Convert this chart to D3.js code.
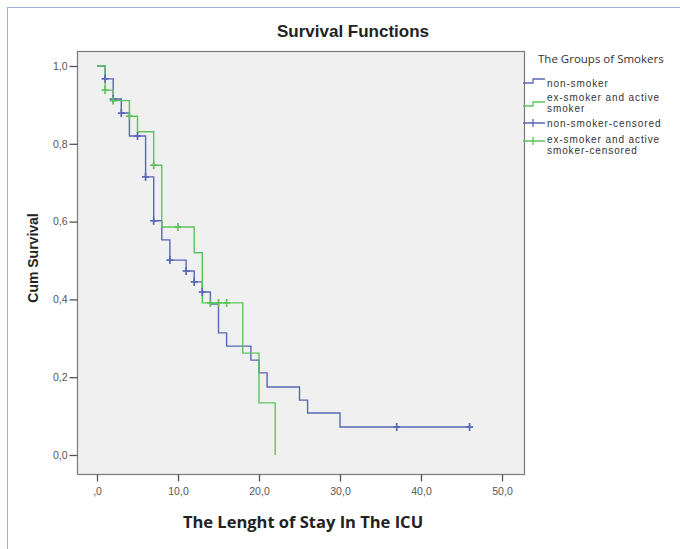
<!DOCTYPE html>
<html>
<head>
<meta charset="utf-8">
<script src="https://cdn.jsdelivr.net/npm/d3@7"></script>
<style>
  body { margin: 0; background: #fff; }
  svg { display: block; }
</style>
</head>
<body>
<div id="chart"></div>
<script>
// non-smoker curve (time, cum survival)
var blueTimes = [0, 1, 2, 3, 4, 6, 7, 8, 9, 11, 12, 13, 14, 15, 16, 19, 20, 21, 25, 26, 30, 46];
var blueSurv = [1.0, 0.967, 0.915, 0.879, 0.820, 0.715, 0.602, 0.553, 0.501, 0.473, 0.445, 0.419, 0.388, 0.314, 0.280, 0.244, 0.211, 0.175, 0.141, 0.108, 0.072, 0.072];
var blueCensT = [1, 2, 3, 5, 6, 7, 9, 11, 12, 13, 37, 46];
var blueCensS = [0.967, 0.915, 0.879, 0.820, 0.715, 0.602, 0.501, 0.473, 0.445, 0.419, 0.072, 0.072];

// ex-smoker and active smoker curve
var greenTimes = [0, 1, 2, 4, 5, 7, 8, 12, 13, 18, 20, 22];
var greenSurv = [1.0, 0.938, 0.911, 0.871, 0.831, 0.745, 0.586, 0.520, 0.391, 0.262, 0.134, 0.0];
var greenCensT = [1, 2, 4, 7, 10, 14, 15, 16];
var greenCensS = [0.938, 0.911, 0.871, 0.745, 0.586, 0.391, 0.391, 0.391];

var xTicks = [0, 10, 20, 30, 40, 50];
var yTicks = [0, 0.2, 0.4, 0.6, 0.8, 1.0];

var blue = '#5767b9';
var green = '#5cc35c';

var legendItems = [
  { lines: ['non-smoker'], color: blue, kind: 'step' },
  { lines: ['ex-smoker and active', 'smoker'], color: green, kind: 'step' },
  { lines: ['non-smoker-censored'], color: blue, kind: 'cross' },
  { lines: ['ex-smoker and active', 'smoker-censored'], color: green, kind: 'cross' }
];

var w = 680;
var h = 549;
var svg = d3.select('#chart').append('svg')
  .attr('width', w)
  .attr('height', h);

// outer frame
svg.append('rect')
  .attr('x', 7.5).attr('y', 7.5)
  .attr('width', 690).attr('height', 570)
  .attr('fill', 'none')
  .attr('stroke', '#9db0da')
  .attr('stroke-width', 1);

var plotL = 77, plotT = 51, plotR = 524, plotB = 474;

var x = d3.scaleLinear().domain([0, 50]).range([97, 502]);
var y = d3.scaleLinear().domain([0, 1]).range([455, 66]);

svg.append('rect')
  .attr('x', plotL + 0.5).attr('y', plotT + 0.5)
  .attr('width', plotR - plotL).attr('height', plotB - plotT)
  .attr('fill', '#f0f0f0')
  .attr('stroke', '#7a7a7a')
  .attr('stroke-width', 1.2);

function fmt(d) {
  return d3.format('.1f')(d).replace('.', ',');
}

// y axis
var yAxis = svg.append('g')
  .attr('transform', 'translate(' + (plotL + 0.5) + ',0)')
  .call(d3.axisLeft(y).tickValues(yTicks).tickSize(8).tickPadding(2)
    .tickFormat(fmt));
yAxis.select('.domain').remove();

// x axis
var xAxis = svg.append('g')
  .attr('transform', 'translate(0,' + (plotB + 0.5) + ')')
  .call(d3.axisBottom(x).tickValues(xTicks).tickSize(7).tickPadding(6)
    .tickFormat(function (d) {
      return d === 0 ? ',0' : fmt(d);
    }));
xAxis.select('.domain').remove();

svg.selectAll('.tick line').attr('stroke', '#555').attr('stroke-width', 1.3);
svg.selectAll('.tick text')
  .attr('fill', '#555')
  .attr('font-family', 'Liberation Sans, Arial, sans-serif')
  .attr('font-size', '10.5px');

// curves
var line = d3.line()
  .x(function (d) { return x(d[0]); })
  .y(function (d) { return y(d[1]); })
  .curve(d3.curveStepAfter);

function drawCurve(times, surv, color) {
  svg.append('path')
    .datum(d3.zip(times, surv))
    .attr('d', line)
    .attr('fill', 'none')
    .attr('stroke', color)
    .attr('stroke-width', 1.4);
}

function drawCens(times, surv, color) {
  var g = svg.append('g');
  var pts = d3.zip(times, surv);
  g.selectAll('line.v').data(pts).enter().append('line')
    .attr('x1', function (d) { return x(d[0]); })
    .attr('x2', function (d) { return x(d[0]); })
    .attr('y1', function (d) { return y(d[1]) - 4; })
    .attr('y2', function (d) { return y(d[1]) + 4; })
    .attr('stroke', color).attr('stroke-width', 1.7);
  g.selectAll('line.h').data(pts).enter().append('line')
    .attr('x1', function (d) { return x(d[0]) - 3.5; })
    .attr('x2', function (d) { return x(d[0]) + 3.5; })
    .attr('y1', function (d) { return y(d[1]); })
    .attr('y2', function (d) { return y(d[1]); })
    .attr('stroke', color).attr('stroke-width', 1.7);
}

drawCurve(blueTimes, blueSurv, blue);
drawCurve(greenTimes, greenSurv, green);
drawCens(blueCensT, blueCensS, blue);
drawCens(greenCensT, greenCensS, green);

// titles
svg.append('text')
  .text('Survival Functions')
  .attr('x', 353).attr('y', 37)
  .attr('text-anchor', 'middle')
  .attr('font-family', 'Liberation Sans, Arial, sans-serif')
  .attr('font-weight', 'bold')
  .attr('font-size', '17px')
  .attr('fill', '#222');

svg.append('text')
  .text('Cum Survival')
  .attr('transform', 'translate(38,258) rotate(-90)')
  .attr('text-anchor', 'middle')
  .attr('font-family', 'Liberation Sans, Arial, sans-serif')
  .attr('font-weight', 'bold')
  .attr('font-size', '14px')
  .attr('fill', '#222');

svg.append('text')
  .text('The Lenght of Stay In The ICU')
  .attr('x', 303).attr('y', 528)
  .attr('text-anchor', 'middle')
  .attr('font-family', 'Open Sans, sans-serif')
  .attr('font-weight', 'bold')
  .attr('font-size', '16.5px')
  .attr('fill', '#222');

// legend
var lg = svg.append('g');
lg.append('text')
  .text('The Groups of Smokers')
  .attr('x', 538).attr('y', 63)
  .attr('font-family', 'Open Sans, sans-serif')
  .attr('font-size', '11.5px')
  .attr('fill', '#333');

var itemY = [83, 103, 123, 145];
legendItems.forEach(function (it, i) {
  var cy = itemY[i];
  if (it.kind === 'step') {
    var sy = i === 0 ? cy : cy + 3;
    lg.append('path')
      .attr('d', 'M523,' + sy + 'H533V' + (sy - 4) + 'H545')
      .attr('fill', 'none')
      .attr('stroke', it.color)
      .attr('stroke-width', 1.3);
  } else {
    var sy2 = i === 2 ? cy : cy - 4;
    lg.append('path')
      .attr('d', 'M523,' + sy2 + 'H545M533,' + (sy2 - 4) + 'V' + (sy2 + 4))
      .attr('fill', 'none')
      .attr('stroke', it.color)
      .attr('stroke-width', 1.3);
  }
  var y0 = it.lines.length === 1 ? cy + 3.5 : cy - 2.5;
  it.lines.forEach(function (s, k) {
    lg.append('text')
      .text(s)
      .attr('x', 547)
      .attr('y', y0 + k * 11.5)
      .attr('font-family', 'Liberation Sans, Arial, sans-serif')
      .attr('font-size', '10px')
      .attr('letter-spacing', '0.9px')
      .attr('fill', '#333');
  });
});
</script>
</body>
</html>
